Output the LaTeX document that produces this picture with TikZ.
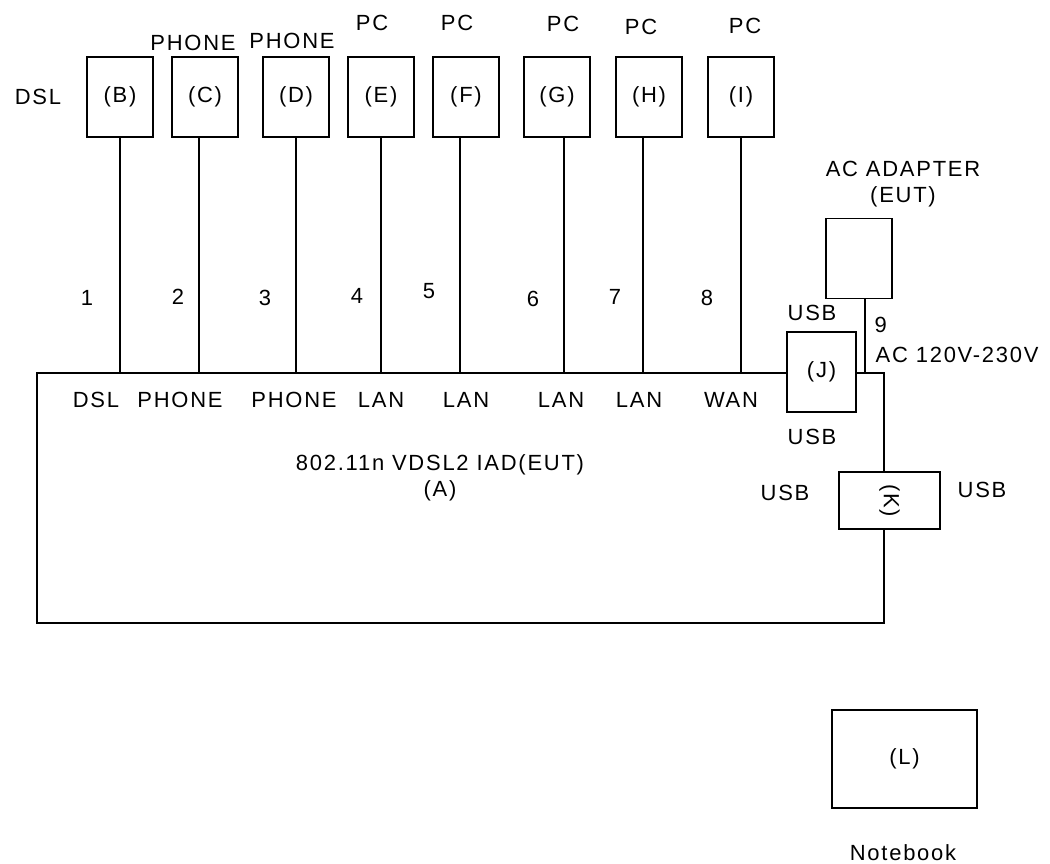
\documentclass[tikz,border=0pt]{standalone}
\usepackage{fontspec}
\setmainfont[LetterSpace=8]{Liberation Sans}
\usetikzlibrary{positioning,calc}

\begin{document}
\begin{tikzpicture}[x=0.02cm, y=-0.02cm, line width=0.8pt,
    unit/.style={draw, fill=white, minimum width=1.32cm, minimum height=1.6cm, inner sep=0pt},
    txt/.style={font=\fontsize{12.5}{15}\selectfont, inner sep=0pt, align=center}]
\useasboundingbox (0,0) rectangle (1050,864);

% IAD
\node[draw, minimum width=16.94cm, minimum height=5cm, inner sep=0pt] (A) at (460.5,498) {};
\node[txt] (Alabel) at (440,478) {802.11n VDSL2 IAD(EUT)\\(A)};

% Top units and cables
\foreach \n/\x/\lx in {B/120/120, C/205/199, D/296/296, E/381/381, F/466/460, G/557/564, H/649/643, I/741/741}{
    \node[unit, txt] (\n) at (\x,97) {(\n)};
    \draw (\lx,0 |- \n.south) -- (\lx,0 |- A.north);
}

% Unit labels
\node[txt] (tB) at (38,97) {DSL};
\node[txt] (tC) at (193,43) {PHONE};
\node[txt] (tD) at (292,41) {PHONE};
\node[txt] (tE) at (372,23) {PC};
\node[txt] (tF) at (457,23) {PC};
\node[txt] (tG) at (563,24) {PC};
\node[txt] (tH) at (641,27) {PC};
\node[txt] (tI) at (745,26) {PC};

% Cable numbers
\foreach \k/\x/\y in {1/87/298, 2/178/297, 3/265/298, 4/357/296, 5/429/291, 6/533/299, 7/615/297, 8/707/298}
    \node[txt] (n\k) at (\x,\y) {\k};

% Port labels
\foreach \p/\x in {DSL/96, PHONE/180, PHONE/294, LAN/381, LAN/466, LAN/561, LAN/639, WAN/731}
    \node[txt] at (\x,400) {\p};

% AC adapter
\node[unit] (adapter) at (859,258.5) {};
\node[txt] (tadapter) at (903,184) {AC ADAPTER\\(EUT)};
\draw (865,0 |- adapter.south) -- (865,0 |- A.north);
\node[txt, anchor=west] (n9) at (874,325) {9};
\node[txt, anchor=west] (tac) at (875,355) {AC 120V-230V};

% USB units
\node[unit, txt, minimum width=1.38cm] (J) at (821.5,372) {(J)};
\node[txt] (tJ1) at (812,313) {USB};
\node[txt] (tJ2) at (812,437) {USB};
\node[unit, minimum width=2.02cm, minimum height=1.14cm] (K) at (889.5,500.5) {};
\node[txt, rotate=-90] at (K.center) {(K)};
\node[txt] (tK1) at (785,493) {USB};
\node[txt] (tK2) at (982,490) {USB};

% Notebook
\node[unit, txt, minimum width=2.9cm, minimum height=1.96cm] (L) at (904.5,759) {(L)};
\node[txt] (tL) at (903,853) {Notebook};
\end{tikzpicture}
\end{document}
